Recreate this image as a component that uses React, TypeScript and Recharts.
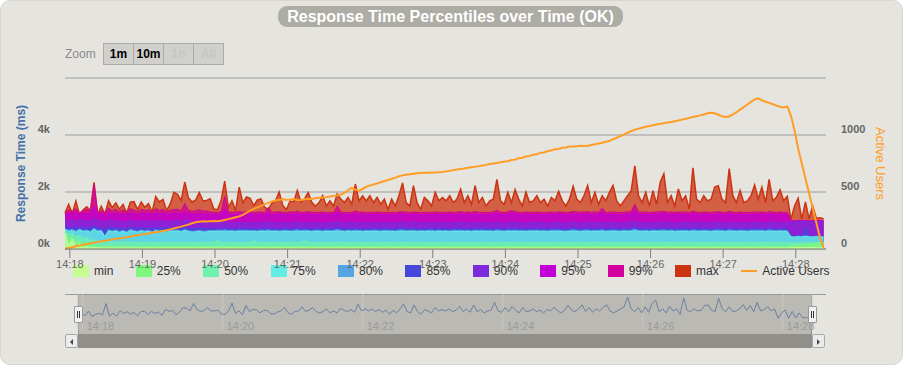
import React from 'react';
import { ComposedChart, Area, Line, XAxis, YAxis, CartesianGrid } from 'recharts';

const FONT = '"Liberation Sans", Arial, Helvetica, sans-serif';
const ORANGE = '#FF9D24';

// time: first sample 14:17:56, one sample every 3 seconds
const START_LABEL = '14:17:56';
const STEP_SECONDS = 3;
const SPAN_SECONDS = 629;
const minuteLabels = ['14:18', '14:19', '14:20', '14:21', '14:22', '14:23', '14:24', '14:25', '14:26', '14:27', '14:28'];
const navigatorLabels = ['14:18', '14:20', '14:22', '14:24', '14:26', '14:28'];
const leftTicks = [0, 2000, 4000, 6000];
const rightTicks = [0, 500, 1000, 1500];

const minMs = [
  560, 100, 350, 60, 200, 50, 80, 40, 50, 40,
  38, 35, 40, 33, 36, 34, 38, 35, 33, 36,
  35, 33, 37, 34, 36, 35, 33, 38, 34, 36,
  36, 34, 35, 37, 33, 36, 35, 34, 37, 35,
  34, 36, 35, 33, 37, 35, 34, 36, 35, 33,
  36, 35, 34, 37, 35, 33, 36, 34, 35, 37,
  35, 33, 36, 35, 34, 37, 35, 33, 36, 34,
  34, 36, 35, 33, 37, 34, 35, 36, 33, 35,
  36, 34, 33, 35, 37, 35, 34, 36, 35, 33,
  35, 37, 34, 36, 33, 35, 36, 34, 37, 35,
  33, 35, 36, 34, 35, 37, 33, 35, 36, 34,
  35, 34, 37, 35, 33, 36, 35, 34, 36, 35,
  36, 35, 33, 37, 35, 34, 36, 35, 33, 36,
  34, 36, 35, 33, 36, 35, 37, 34, 35, 33,
  35, 37, 34, 36, 35, 33, 35, 36, 34, 37,
  36, 34, 35, 37, 33, 35, 36, 34, 35, 36,
  33, 35, 36, 34, 37, 35, 34, 33, 36, 35,
  35, 36, 34, 35, 33, 37, 35, 36, 34, 35,
  37, 35, 33, 36, 35, 34, 36, 35, 37, 34,
  35, 34, 36, 33, 35, 37, 34, 36, 35, 33,
  48, 52, 50, 47, 53, 50, 49, 52, 48, 51,
];

const p25Ms = [
  580, 300, 420, 200, 300, 150, 200, 120, 130, 100,
  95, 90, 100, 88, 92, 86, 95, 90, 88, 92,
  90, 88, 93, 89, 91, 87, 92, 90, 88, 93,
  91, 89, 90, 94, 88, 92, 90, 87, 93, 90,
  89, 92, 90, 88, 93, 90, 87, 91, 90, 92,
  90, 88, 92, 90, 87, 93, 89, 91, 90, 88,
  92, 90, 88, 91, 93, 89, 90, 92, 88, 90,
  89, 91, 93, 90, 88, 92, 90, 89, 91, 93,
  90, 92, 88, 91, 90, 89, 93, 90, 88, 91,
  92, 89, 90, 93, 88, 91, 90, 92, 89, 90,
  91, 90, 88, 92, 90, 93, 89, 90, 91, 88,
  90, 93, 89, 91, 88, 90, 92, 89, 93, 90,
  88, 91, 90, 92, 89, 90, 93, 88, 91, 90,
  92, 89, 91, 90, 88, 93, 90, 91, 89, 92,
  90, 88, 92, 91, 90, 89, 93, 90, 88, 91,
  89, 92, 90, 88, 93, 91, 90, 89, 92, 90,
  91, 90, 88, 93, 89, 90, 92, 91, 88, 90,
  90, 93, 91, 89, 90, 88, 92, 90, 93, 89,
  92, 90, 89, 91, 88, 93, 90, 92, 89, 90,
  90, 91, 93, 88, 92, 90, 89, 91, 90, 88,
  130, 120, 140, 150, 170, 190, 200, 210, 215, 220,
];

const p50Ms = [
  620, 520, 560, 430, 480, 360, 400, 300, 320, 260,
  250, 240, 260, 235, 245, 230, 250, 240, 235, 245,
  232, 228, 236, 230, 225, 234, 230, 238, 228, 232,
  230, 235, 228, 232, 238, 226, 232, 230, 228, 234,
  230, 228, 300, 232, 226, 234, 230, 228, 236, 230,
  232, 226, 290, 230, 228, 236, 230, 232, 226, 234,
  228, 232, 230, 236, 226, 232, 300, 234, 230, 226,
  232, 230, 228, 234, 226, 232, 236, 230, 228, 232,
  230, 236, 228, 232, 226, 234, 230, 228, 232, 236,
  228, 232, 230, 234, 226, 230, 236, 228, 232, 230,
  234, 228, 232, 230, 226, 234, 230, 236, 228, 232,
  230, 226, 234, 232, 228, 230, 236, 228, 232, 230,
  232, 228, 230, 236, 226, 232, 230, 234, 228, 230,
  226, 234, 230, 228, 232, 236, 228, 230, 234, 226,
  232, 230, 228, 234, 230, 226, 236, 232, 228, 230,
  230, 234, 228, 232, 226, 230, 236, 228, 232, 234,
  228, 232, 230, 226, 234, 230, 228, 236, 230, 232,
  234, 228, 230, 232, 236, 226, 230, 228, 234, 230,
  230, 236, 228, 232, 226, 230, 234, 228, 232, 230,
  232, 228, 234, 230, 226, 232, 230, 236, 228, 230,
  210, 205, 215, 210, 220, 210, 205, 215, 220, 225,
];

const p75Ms = [
  680, 620, 650, 590, 670, 610, 630, 590, 690, 610,
  630, 430, 640, 600, 630, 580, 620, 570, 650, 610,
  590, 630, 600, 620, 580, 640, 610, 630, 590, 620,
  620, 630, 600, 650, 610, 590, 600, 620, 590, 600,
  615, 610, 620, 612, 625, 608, 618, 605, 620, 612,
  618, 606, 615, 604, 620, 612, 625, 608, 615, 602,
  612, 620, 604, 615, 625, 608, 620, 612, 604, 620,
  612, 604, 620, 608, 615, 630, 612, 604, 620, 608,
  620, 612, 604, 615, 608, 620, 612, 604, 620, 608,
  615, 604, 620, 625, 608, 612, 620, 604, 615, 608,
  612, 620, 604, 620, 608, 615, 604, 620, 612, 620,
  608, 615, 604, 620, 612, 620, 608, 615, 604, 625,
  612, 604, 620, 612, 620, 608, 615, 604, 620, 612,
  620, 608, 612, 604, 620, 612, 620, 608, 604, 615,
  625, 612, 604, 620, 620, 608, 612, 612, 625, 604,
  612, 620, 612, 604, 620, 608, 620, 640, 612, 608,
  620, 604, 620, 612, 612, 625, 608, 620, 604, 612,
  612, 620, 604, 625, 612, 608, 620, 612, 604, 620,
  620, 612, 604, 625, 612, 608, 620, 612, 604, 612,
  620, 612, 620, 604, 625, 612, 608, 620, 612, 608,
  420, 410, 430, 420, 440, 420, 410, 430, 420, 410,
];

const p80Ms = [
  700, 650, 680, 620, 700, 640, 660, 620, 720, 640,
  660, 450, 670, 630, 660, 610, 650, 600, 680, 640,
  620, 660, 630, 650, 610, 670, 640, 660, 620, 650,
  650, 660, 630, 680, 640, 620, 630, 650, 620, 630,
  650, 640, 660, 650, 670, 640, 650, 630, 660, 650,
  660, 640, 650, 630, 660, 650, 670, 640, 650, 630,
  650, 660, 630, 650, 670, 640, 660, 650, 630, 660,
  650, 630, 660, 640, 650, 680, 650, 630, 660, 640,
  660, 650, 630, 650, 640, 660, 650, 630, 660, 640,
  650, 630, 660, 670, 640, 650, 660, 630, 650, 640,
  650, 660, 630, 660, 640, 650, 630, 660, 650, 660,
  640, 650, 630, 660, 650, 660, 640, 650, 630, 670,
  650, 630, 660, 650, 660, 640, 650, 630, 660, 650,
  660, 640, 650, 630, 660, 650, 660, 640, 630, 650,
  670, 650, 630, 660, 660, 640, 650, 650, 670, 630,
  650, 660, 650, 630, 660, 640, 660, 690, 650, 640,
  660, 630, 660, 650, 650, 670, 640, 660, 630, 650,
  650, 660, 630, 670, 650, 640, 660, 650, 630, 660,
  660, 650, 630, 670, 650, 640, 660, 650, 630, 650,
  660, 650, 660, 630, 670, 650, 640, 660, 650, 640,
  440, 430, 450, 440, 460, 440, 430, 450, 440, 430,
];

const p85Ms = [
  790, 730, 770, 710, 800, 740, 760, 720, 820, 730,
  750, 680, 780, 720, 760, 710, 740, 690, 770, 730,
  710, 750, 720, 740, 700, 760, 730, 750, 710, 740,
  740, 750, 720, 770, 730, 710, 720, 740, 710, 720,
  715, 700, 730, 705, 735, 700, 720, 695, 730, 710,
  720, 700, 715, 695, 730, 705, 735, 700, 715, 695,
  705, 730, 695, 715, 735, 700, 720, 710, 695, 730,
  710, 695, 720, 700, 715, 745, 710, 695, 730, 700,
  720, 710, 695, 715, 700, 730, 710, 695, 720, 700,
  715, 695, 730, 735, 700, 710, 730, 695, 715, 700,
  710, 720, 695, 730, 700, 715, 695, 720, 710, 730,
  700, 715, 695, 730, 710, 720, 700, 715, 695, 735,
  710, 695, 720, 715, 730, 700, 715, 695, 720, 710,
  730, 700, 715, 695, 720, 710, 730, 700, 695, 715,
  735, 710, 695, 720, 730, 700, 715, 710, 735, 695,
  715, 730, 710, 695, 720, 700, 730, 760, 715, 700,
  720, 695, 730, 710, 715, 735, 700, 720, 695, 715,
  710, 730, 695, 735, 715, 700, 720, 710, 695, 730,
  720, 710, 695, 735, 715, 700, 720, 710, 695, 715,
  730, 710, 720, 695, 735, 715, 700, 720, 710, 700,
  450, 440, 470, 460, 800, 450, 440, 460, 450, 440,
];

const p90Ms = [
  1050, 980, 1020, 940, 1060, 990, 1010, 950, 1100, 980,
  1000, 900, 1040, 960, 1010, 940, 990, 920, 1030, 970,
  950, 1000, 960, 990, 930, 1010, 970, 1000, 940, 980,
  990, 1000, 960, 1050, 980, 950, 960, 980, 950, 940,
  930, 900, 950, 920, 960, 910, 940, 900, 950, 920,
  940, 910, 930, 900, 950, 920, 960, 910, 930, 900,
  920, 950, 900, 930, 960, 910, 940, 920, 900, 950,
  920, 900, 940, 910, 930, 970, 920, 900, 950, 910,
  940, 920, 900, 930, 910, 950, 920, 900, 940, 910,
  930, 900, 950, 960, 910, 920, 950, 900, 930, 910,
  920, 940, 900, 950, 910, 930, 900, 940, 920, 950,
  910, 930, 900, 950, 920, 940, 910, 930, 900, 960,
  920, 900, 940, 930, 950, 910, 930, 900, 940, 920,
  950, 910, 930, 900, 940, 920, 950, 910, 900, 930,
  960, 920, 900, 940, 950, 910, 930, 920, 960, 900,
  930, 950, 920, 900, 940, 910, 950, 990, 930, 910,
  940, 900, 950, 920, 930, 960, 910, 940, 900, 930,
  920, 950, 900, 960, 930, 910, 940, 920, 900, 950,
  940, 920, 900, 960, 930, 910, 940, 920, 900, 930,
  950, 920, 940, 900, 960, 930, 910, 940, 920, 910,
  960, 950, 970, 955, 960, 965, 950, 960, 955, 950,
];

const p95Ms = [
  1200, 1250, 1230, 1280, 1210, 1240, 1260, 1220, 1500, 1200,
  1240, 1180, 1270, 1230, 1260, 1210, 1250, 1200, 1270, 1240,
  1210, 1260, 1230, 1250, 1200, 1270, 1240, 1260, 1210, 1240,
  1250, 1260, 1230, 1300, 1240, 1220, 1230, 1250, 1220, 1230,
  1220, 1210, 1200, 1220, 1400, 1210, 1220, 1200, 1230, 1210,
  1220, 1230, 1200, 1210, 1220, 1200, 1260, 1210, 1220, 1230,
  1210, 1200, 1220, 1210, 1240, 1200, 1210, 1230, 1210, 1200,
  1210, 1220, 1200, 1210, 1200, 1300, 1220, 1200, 1210, 1200,
  1240, 1210, 1220, 1200, 1210, 1200, 1220, 1210, 1200, 1190,
  1210, 1200, 1220, 1230, 1210, 1200, 1220, 1210, 1190, 1210,
  1210, 1200, 1220, 1210, 1200, 1210, 1220, 1200, 1210, 1230,
  1210, 1220, 1200, 1230, 1210, 1200, 1210, 1200, 1220, 1250,
  1210, 1200, 1220, 1250, 1230, 1210, 1200, 1220, 1210, 1200,
  1220, 1210, 1200, 1210, 1220, 1200, 1230, 1210, 1200, 1210,
  1230, 1220, 1210, 1220, 1230, 1210, 1220, 1210, 1300, 1200,
  1210, 1220, 1210, 1200, 1210, 1220, 1230, 1350, 1220, 1210,
  1220, 1200, 1210, 1220, 1230, 1240, 1210, 1220, 1200, 1220,
  1210, 1220, 1200, 1240, 1210, 1200, 1220, 1210, 1200, 1220,
  1230, 1210, 1200, 1240, 1210, 1200, 1220, 1210, 1200, 1210,
  1220, 1210, 1220, 1200, 1230, 1210, 1200, 1220, 1210, 1200,
  980, 970, 990, 975, 985, 980, 970, 990, 980, 975,
];

const p99Ms = [
  1250, 1380, 1300, 1420, 1280, 1340, 1400, 1320, 2250, 1260,
  1350, 1280, 1440, 1330, 1400, 1300, 1380, 1270, 1420, 1360,
  1300, 1400, 1340, 1380, 1290, 1420, 1350, 1390, 1300, 1360,
  1380, 1400, 1330, 1600, 1360, 1320, 1340, 1380, 1330, 1340,
  1300, 1290, 1280, 1310, 1850, 1290, 1300, 1280, 1320, 1290,
  1300, 1310, 1280, 1290, 1300, 1280, 1460, 1290, 1300, 1310,
  1290, 1280, 1300, 1290, 1330, 1280, 1290, 1310, 1290, 1280,
  1290, 1300, 1280, 1290, 1280, 1510, 1300, 1280, 1290, 1280,
  1340, 1290, 1300, 1280, 1290, 1280, 1300, 1290, 1280, 1270,
  1290, 1280, 1300, 1310, 1290, 1280, 1300, 1290, 1270, 1290,
  1290, 1280, 1300, 1290, 1280, 1290, 1300, 1280, 1290, 1310,
  1290, 1300, 1280, 1320, 1290, 1280, 1290, 1280, 1300, 1360,
  1290, 1280, 1300, 1350, 1310, 1290, 1280, 1300, 1290, 1280,
  1300, 1290, 1280, 1290, 1300, 1280, 1310, 1290, 1280, 1290,
  1320, 1300, 1290, 1300, 1310, 1290, 1300, 1290, 1430, 1280,
  1290, 1300, 1290, 1280, 1290, 1300, 1310, 1570, 1300, 1290,
  1300, 1280, 1290, 1300, 1310, 1320, 1290, 1300, 1280, 1300,
  1290, 1300, 1280, 1330, 1290, 1280, 1300, 1290, 1280, 1300,
  1310, 1290, 1280, 1320, 1290, 1280, 1300, 1290, 1280, 1290,
  1300, 1290, 1300, 1280, 1310, 1290, 1280, 1300, 1290, 1280,
  1000, 990, 1010, 990, 1000, 1000, 990, 1010, 1000, 990,
];

const maxMs = [
  1270, 1560, 1250, 1680, 1200, 1380, 1480, 1350, 2340, 1220,
  1500, 1230, 1690, 1450, 1620, 1400, 1560, 1260, 1640, 1660,
  1380, 1650, 1460, 1590, 1300, 1840, 1650, 1740, 1350, 1580,
  1990, 1920, 1700, 2350, 1800, 1650, 1720, 1980, 1690, 1700,
  1760, 1400, 1380, 1690, 2380, 1460, 1690, 1350, 2170, 1620,
  1830, 1780, 1520, 1720, 1760, 1460, 1400, 1600, 1690, 2000,
  1530, 1380, 1680, 1650, 2050, 1640, 1760, 1980, 1640, 1500,
  1630, 1870, 1510, 1690, 1510, 1930, 1750, 1630, 1810, 1570,
  2280, 1690, 1870, 1690, 1870, 1630, 1810, 1570, 1750, 1390,
  1750, 1510, 1870, 2320, 1630, 1510, 2220, 1630, 1390, 1810,
  1690, 1510, 1990, 1690, 1810, 1690, 1870, 1630, 1750, 2100,
  1630, 1870, 1570, 2220, 1630, 1810, 1510, 1690, 1750, 2440,
  1690, 1570, 1990, 1630, 2080, 1750, 1510, 2000, 1630, 1690,
  1870, 1630, 1750, 1510, 1810, 1690, 2020, 1690, 1510, 1750,
  2200, 1750, 1630, 1870, 2230, 1630, 1990, 1570, 1870, 1690,
  1990, 2230, 1690, 1510, 1690, 1870, 2050, 2920, 1870, 1630,
  1990, 1510, 2050, 1570, 2350, 2640, 1630, 1870, 1510, 2110,
  1690, 1870, 1390, 2850, 1750, 1630, 1870, 1690, 1750, 2170,
  2220, 1750, 1630, 2820, 1870, 1630, 2050, 1630, 1690, 1870,
  2250, 1750, 2170, 1630, 2440, 1690, 1810, 2080, 1690, 1850,
  1040, 1510, 1780, 1040, 1650, 1060, 1510, 1080, 1100, 1060,
];

const activeUsers = [
  3, 10, 16, 24, 30, 38, 44, 50, 56, 61,
  67, 72, 78, 84, 89, 95, 99, 104, 110, 116,
  121, 126, 131, 136, 142, 147, 152, 158, 164, 172,
  180, 188, 196, 205, 214, 226, 234, 240, 243, 241,
  244, 246, 243, 247, 255, 262, 270, 278, 286, 300,
  318, 336, 352, 366, 378, 392, 405, 416, 425, 433,
  436, 431, 434, 438, 430, 428, 436, 441, 438, 445,
  449, 452, 455, 460, 466, 469, 478, 492, 515, 536,
  522, 510, 528, 546, 556, 566, 576, 585, 596, 605,
  616, 626, 638, 646, 652, 655, 660, 664, 667, 669,
  668, 672, 670, 674, 676, 681, 686, 692, 697, 702,
  706, 713, 718, 722, 727, 733, 738, 745, 750, 755,
  760, 768, 770, 781, 784, 797, 801, 812, 816, 828,
  832, 845, 847, 860, 863, 876, 878, 889, 890, 899,
  899, 902, 906, 903, 906, 912, 918, 925, 932, 940,
  950, 962, 976, 990, 1004, 1020, 1034, 1046, 1056, 1064,
  1072, 1079, 1085, 1092, 1098, 1104, 1110, 1114, 1120, 1127,
  1135, 1142, 1150, 1158, 1165, 1172, 1180, 1190, 1196, 1190,
  1178, 1165, 1158, 1162, 1180, 1200, 1222, 1245, 1268, 1290,
  1312, 1322, 1305, 1292, 1282, 1270, 1258, 1248, 1242, 1250,
  1170, 1040, 880, 750, 620, 490, 360, 230, 100, 10,
];

const seriesKeys = ['min', 'p25', 'p50', 'p75', 'p80', 'p85', 'p90', 'p95', 'p99', 'max'];
const seriesNames = ['min', '25%', '50%', '75%', '80%', '85%', '90%', '95%', '99%', 'max'];
const seriesColors = ['#C4FD90', '#7FF77F', '#6FF2AD', '#61ECE4', '#55A5E5', '#4747DE', '#7B2BDB', '#C000D4', '#D1009E', '#CC3311'];
const seriesValues = [minMs, p25Ms, p50Ms, p75Ms, p80Ms, p85Ms, p90Ms, p95Ms, p99Ms, maxMs];

const toSec = (label: string) => {
  const parts = label.split(':').map(Number);
  return parts[0] * 3600 + parts[1] * 60 + (parts[2] || 0);
};
const fmt = (s: number) => {
  const h = Math.floor(s / 3600);
  const m = Math.floor((s % 3600) / 60);
  return `${h}:${String(m).padStart(2, '0')}`;
};

const START = toSec(START_LABEL);
const DOMAIN: [number, number] = [START, START + SPAN_SECONDS];
const minuteTicks = minuteLabels.map(toSec);
const navTicks = navigatorLabels.map(toSec);

const table = maxMs.map((_, i) => {
  const row: Record<string, number> = { t: START + i * STEP_SECONDS, users: activeUsers[i] };
  seriesKeys.forEach((k, j) => {
    row[k] = seriesValues[j][i];
  });
  return row;
});

const NavTick = (props: any) => {
  const { x, y, payload } = props;
  return (
    <text x={x + 4} y={y} fontSize={11} fill="#9A9A9A" fontFamily={FONT}>
      {fmt(payload.value)}
    </text>
  );
};

const LeftTick = (props: any) => {
  const { x, y, payload } = props;
  const v = payload.value as number;
  return (
    <text x={x} y={y - 6} dy="0.35em" textAnchor="end" fontSize={11} fontWeight="bold" fill="#666" fontFamily={FONT}>
      {v === 6000 ? '' : `${v / 1000}k`}
    </text>
  );
};

const RightTick = (props: any) => {
  const { x, y, payload } = props;
  const v = payload.value as number;
  return (
    <text x={x} y={y - 6} dy="0.35em" textAnchor="start" fontSize={11} fontWeight="bold" fill="#666" fontFamily={FONT}>
      {v === 1500 ? '' : `${v}`}
    </text>
  );
};

const Handle = ({ left }: { left: number }) => (
  <div
    style={{
      position: 'absolute', left: left - 4, top: 306, width: 7, height: 15,
      background: '#F2F2F2', border: '1px solid #999', borderRadius: 1,
    }}
  >
    <div style={{ position: 'absolute', left: 2, top: 4, width: 1, height: 7, background: '#333' }} />
    <div style={{ position: 'absolute', left: 4, top: 4, width: 1, height: 7, background: '#333' }} />
  </div>
);

const ScrollButton = ({ left, dir }: { left: number; dir: 'l' | 'r' }) => (
  <div
    style={{
      position: 'absolute', left, top: 334, width: 13, height: 14, background: '#ECECEC',
      border: '1px solid #A8A8A8', borderRadius: 2, boxSizing: 'border-box',
    }}
  >
    <div
      style={{
        position: 'absolute', left: 4, top: 4, width: 0, height: 0,
        borderTop: '3px solid transparent', borderBottom: '3px solid transparent',
        ...(dir === 'l' ? { borderRight: '3px solid #444' } : { borderLeft: '3px solid #444' }),
      }}
    />
  </div>
);

export default function App() {
  const drawOrder = seriesKeys.map((_, i) => i).reverse();
  return (
    <div style={{ position: 'absolute', left: 0, top: 0, width: 903, height: 365, background: '#fff', fontFamily: FONT, overflow: 'hidden' }}>
      <div
        style={{
          position: 'absolute', left: 0, top: 0, width: 903, height: 365, boxSizing: 'border-box',
          background: '#E5E4DF', borderRadius: 10, border: '1px solid #D8D7D2',
        }}
      />
      {/* title */}
      <div
        style={{
          position: 'absolute', left: 278, top: 6, width: 345, height: 21, background: '#ADACA5',
          borderRadius: 9, color: '#fff', fontWeight: 'bold', fontSize: 16, lineHeight: '21px', textAlign: 'center',
        }}
      >
        Response Time Percentiles over Time (OK)
      </div>
      {/* zoom selector */}
      <div style={{ position: 'absolute', left: 65, top: 46, fontSize: 12, color: '#8A8A8A', lineHeight: '16px' }}>Zoom</div>
      <div style={{ position: 'absolute', left: 103, top: 43, display: 'flex', border: '1px solid #ABABAB', height: 20 }}>
        {['1m', '10m', '1h', 'All'].map((b, i) => (
          <div
            key={b}
            style={{
              width: 29, height: 20, lineHeight: '20px', textAlign: 'center', background: '#D1D0CC',
              borderLeft: i ? '1px solid #ABABAB' : 'none', fontWeight: 'bold', fontSize: 12,
              color: i < 2 ? '#000' : '#C6C6C6',
            }}
          >
            {b}
          </div>
        ))}
      </div>
      {/* legend */}
      <div
        style={{
          position: 'absolute', left: 73, top: 264, display: 'flex', alignItems: 'center', fontSize: 12,
          color: '#333', whiteSpace: 'nowrap', lineHeight: '14px',
        }}
      >
        {seriesNames.map((n, i) => (
          <div key={n} style={{ display: 'flex', alignItems: 'center', marginRight: 22.4 }}>
            <span style={{ display: 'inline-block', width: 16, height: 12, background: seriesColors[i] }} />
            <span style={{ marginLeft: 5 }}>{n}</span>
          </div>
        ))}
        <div style={{ display: 'flex', alignItems: 'center' }}>
          <span style={{ display: 'inline-block', width: 16, height: 2, background: ORANGE }} />
          <span style={{ marginLeft: 5 }}>Active Users</span>
        </div>
      </div>
      {/* main chart */}
      <div style={{ position: 'absolute', left: 0, top: 0 }}>
        <ComposedChart width={903} height={365} data={table} margin={{ top: 78, right: 0, bottom: 96, left: 0 }}>
          <CartesianGrid vertical={false} yAxisId="left" stroke="#9C9C9C" />
          <XAxis
            dataKey="t" type="number" domain={DOMAIN} ticks={minuteTicks} interval={0} tickFormatter={fmt}
            height={20} tickSize={9} tickMargin={2} stroke="#7F7F7F"
            tick={{ fontSize: 11, fill: '#666', fontFamily: FONT }}
          />
          <YAxis
            yAxisId="left" width={65} domain={[0, 6000]} ticks={leftTicks} interval={0}
            axisLine={false} tickLine={false} tickSize={0} tickMargin={15} tick={<LeftTick />}
          />
          <YAxis
            yAxisId="right" orientation="right" width={77} domain={[0, 1500]} ticks={rightTicks} interval={0}
            axisLine={false} tickLine={false} tickSize={0} tickMargin={15} tick={<RightTick />}
          />
          {drawOrder.map((j) => (
            <Area
              key={seriesKeys[j]}
              yAxisId="left"
              type="linear"
              dataKey={seriesKeys[j]}
              name={seriesNames[j]}
              stroke={seriesColors[j]}
              strokeWidth={seriesKeys[j] === 'max' ? 1.5 : 1}
              fill={seriesColors[j]}
              fillOpacity={0.75}
              dot={false}
              activeDot={false}
              isAnimationActive={false}
            />
          ))}
          <Line
            yAxisId="right" type="linear" dataKey="users" name="Active Users" stroke={ORANGE}
            strokeWidth={2} dot={false} activeDot={false} isAnimationActive={false}
          />
        </ComposedChart>
      </div>
      {/* axis titles */}
      <svg width={903} height={365} style={{ position: 'absolute', left: 0, top: 0, pointerEvents: 'none' }}>
        <text
          transform="translate(25,163.5) rotate(-90)" textAnchor="middle" fill="#4572A7"
          fontWeight="bold" fontSize={12} fontFamily={FONT}
        >
          Response Time (ms)
        </text>
        <text transform="translate(876,163.5) rotate(90)" textAnchor="middle" fill={ORANGE} fontSize={13} fontFamily={FONT}>
          Active Users
        </text>
      </svg>
      {/* navigator */}
      <div style={{ position: 'absolute', left: 78, top: 294, width: 734, height: 40, background: '#BAB9B3', boxSizing: 'border-box', borderLeft: '1px solid #8F8F8F', borderRight: '1px solid #8F8F8F' }} />
      <div style={{ position: 'absolute', left: 65, top: 294, width: 761, height: 1, background: '#9A9A9A' }} />
      <div style={{ position: 'absolute', left: 65, top: 294 }}>
        <ComposedChart width={761} height={40} data={table} margin={{ top: 0, right: 14, bottom: 0, left: 13 }}>
          <CartesianGrid horizontal={false} stroke="#C8C7C1" />
          <XAxis
            dataKey="t" type="number" domain={DOMAIN} ticks={navTicks} interval={0} height={4}
            axisLine={false} tickLine={false} tickSize={0} tickMargin={0} tick={<NavTick />}
          />
          <YAxis hide domain={[0, 3190]} />
          <Line type="linear" dataKey="max" stroke="#6B81A3" strokeWidth={1} dot={false} activeDot={false} isAnimationActive={false} />
        </ComposedChart>
      </div>
      <Handle left={78} />
      <Handle left={812} />
      {/* scrollbar */}
      <div style={{ position: 'absolute', left: 78, top: 334, width: 734, height: 14, background: '#908F8A' }} />
      <ScrollButton left={65} dir="l" />
      <ScrollButton left={812} dir="r" />
    </div>
  );
}
